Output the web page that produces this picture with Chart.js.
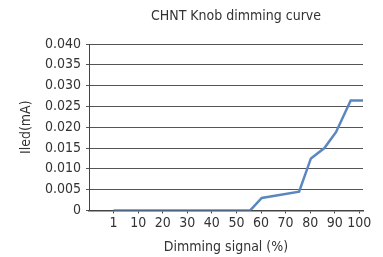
<!DOCTYPE html>
<html>
<head>
<meta charset="utf-8">
<script src="https://cdn.jsdelivr.net/npm/chart.js@4"></script>
<style>
  html, body { margin: 0; padding: 0; background: #fff; }
  #wrap { width: 383px; height: 257px; }
</style>
</head>
<body>
<div id="wrap"><canvas id="myChart" width="383" height="257"></canvas></div>
<script>
// Knob dimming curve
const chartTitle = 'CHNT Knob dimming curve';
const xTitle = 'Dimming signal (%)';
const yTitle = 'Iled(mA)';

const signal = [0, 55.6, 60.3, 75.5, 80.3, 85.8, 90.5, 96.5, 101.5];
const current = [0, 0, 0.003, 0.0045, 0.0125, 0.015, 0.0188, 0.0264, 0.0264];

// x ticks sit at even steps, first one is labelled "1"
const xTickValues = [0, 10, 20, 30, 40, 50, 60, 70, 80, 90, 100];
const xTickLabels = ['1', '10', '20', '30', '40', '50', '60', '70', '80', '90', '100'];

const fontFamily = '"Liberation Sans Narrow", "DejaVu Sans Condensed", sans-serif';
const textColor = '#333';

// draw the title over the plot area instead of the whole canvas
const titlePlugin = {
  id: 'plotTitle',
  afterDraw(chart) {
    const ctx = chart.ctx;
    const area = chart.chartArea;
    ctx.save();
    ctx.font = '14px ' + fontFamily;
    ctx.fillStyle = textColor;
    ctx.textAlign = 'center';
    ctx.textBaseline = 'middle';
    ctx.fillText(chartTitle, (area.left + area.right) / 2 + 10, 16);
    ctx.restore();
  }
};

const points = signal.map((x, i) => ({ x: x, y: current[i] }));

var context = document.getElementById('myChart').getContext('2d');
var myChart = new Chart(context, {
  type: 'line',
  data: {
    datasets: [{
      data: points,
      borderColor: '#5b87c0',
      borderWidth: 2.5,
      pointRadius: 0,
      tension: 0,
      fill: false
    }]
  },
  options: {
    responsive: false,
    animation: false,
    layout: { padding: { top: 44, right: 20, left: 18, bottom: 1 } },
    plugins: {
      legend: { display: false },
      title: { display: false },
      tooltip: { enabled: false }
    },
    scales: {
      x: {
        type: 'linear',
        min: -10,
        max: 101.5,
        afterBuildTicks: (axis) => {
          axis.ticks = xTickValues.map(v => ({ value: v }));
        },
        ticks: {
          autoSkip: false,
          maxRotation: 0,
          color: textColor,
          font: { family: fontFamily, size: 14 },
          padding: 2,
          callback: (value, index) => xTickLabels[index]
        },
        grid: {
          drawOnChartArea: false,
          color: '#444',
          tickLength: 3
        },
        border: { color: '#444', width: 1.5 },
        title: {
          display: true,
          text: xTitle,
          color: textColor,
          font: { family: fontFamily, size: 14 },
          padding: { top: 5, bottom: 0 }
        }
      },
      y: {
        min: 0,
        max: 0.04,
        afterFit: (axis) => { axis.width = 71; },
        ticks: {
          stepSize: 0.005,
          color: textColor,
          font: { family: fontFamily, size: 14 },
          padding: 5,
          callback: (value) => value === 0 ? '0' : value.toFixed(3)
        },
        grid: {
          color: '#555',
          tickLength: 3
        },
        border: { color: '#444', width: 1 },
        title: {
          display: true,
          text: yTitle,
          color: textColor,
          font: { family: fontFamily, size: 14 },
          padding: { top: 0, bottom: 6 }
        }
      }
    }
  },
  plugins: [titlePlugin]
});
</script>
</body>
</html>
